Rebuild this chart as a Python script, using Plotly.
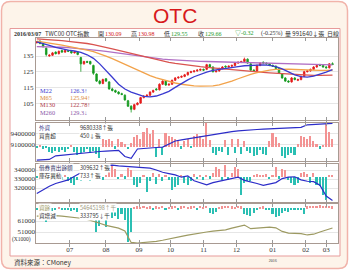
import plotly.graph_objects as go
import pandas as pd

W, H = 350, 273
def X(px): return px / W
def Y(py): return 1 - py / H

# ---------------- trading calendar (TPEx, 2015-06-01 .. 2016-03-07) ----------------
holidays = ["2015-06-19", "2015-09-28", "2015-09-29", "2015-10-09", "2016-01-01",
            "2016-02-04", "2016-02-05", "2016-02-08", "2016-02-09", "2016-02-10",
            "2016-02-11", "2016-02-12", "2016-02-29"]
makeup_days = ["2016-01-30"]
days = pd.bdate_range("2015-06-01", "2016-03-07", freq="C", holidays=holidays)
days = days.union(pd.DatetimeIndex(makeup_days))
idx = list(range(len(days)))
x2 = idx[::2]   # every 2nd session (candles & bars)
x4 = idx[::4]   # every 4th session (averages & balance lines)

month_pos, month_txt = [], []
for i in range(1, len(days)):
    if days[i].month != days[i - 1].month:
        month_pos.append(i)
        t = days[i].strftime("%m")
        if days[i].month == 1:
            t += "<br><span style='font-size:4px'>%d</span>" % days[i].year
        month_txt.append(t)

# ---------------- price (OHLC) ----------------
open_ = [143.5,144.5,143.0,140.0,135.0,135.5,137.5,136.5,138.5,137.5,
         138.5,138.0,137.0,137.5,134.0,130.0,131.5,131.5,129.0,123.5,
         119.0,117.5,120.5,118.5,114.0,113.0,112.0,111.0,110.0,106.5,
         103.0,101.0,104.0,105.0,108.5,109.5,110.0,112.0,114.0,113.5,
         117.0,119.0,116.5,117.0,119.5,121.0,121.5,122.0,123.0,124.5,
         125.0,125.5,126.0,126.5,126.5,129.5,128.0,125.0,125.5,127.0,
         128.5,128.0,128.5,129.0,130.5,131.0,131.5,133.0,130.0,126.0,
         125.5,129.0,131.0,130.5,130.0,129.0,128.5,127.0,123.5,121.0,
         119.0,118.5,121.0,119.5,120.0,122.0,125.0,125.5,126.5,128.0,
         129.5,129.0,128.0,127.5,130.09]
high = [144.5,145.0,143.6,140.5,136.2,137.6,138.0,138.5,139.0,139.0,
        139.0,138.5,138.2,138.0,134.5,132.0,132.0,132.0,129.5,124.0,
        119.8,120.6,121.0,119.0,114.8,113.6,112.6,111.6,110.6,107.0,
        103.6,104.6,105.6,109.0,110.0,110.6,112.6,113.6,114.6,117.6,
        119.6,119.6,117.6,120.0,121.6,122.0,122.6,123.6,125.0,125.6,
        126.0,126.6,127.0,127.0,130.0,130.0,128.5,126.0,127.6,128.6,
        129.0,129.0,129.6,131.0,131.6,132.0,134.0,133.5,130.5,126.6,
        129.6,131.0,131.6,131.0,130.5,129.6,129.0,127.5,124.0,121.5,
        119.6,121.6,121.5,120.6,122.6,125.6,126.0,127.0,128.6,129.6,
        130.0,129.6,128.6,130.5,130.98]
low = [143.0,142.5,140.4,134.8,134.6,135.0,136.0,136.0,137.0,137.0,
       137.5,136.5,136.6,135.5,125.0,129.5,130.5,129.5,123.0,118.5,
       116.8,117.0,118.4,113.5,112.4,111.4,110.4,110.0,106.5,102.5,
       99.0,100.5,103.5,104.5,108.0,109.0,109.5,111.5,113.0,113.0,
       116.5,116.0,116.0,116.6,119.0,120.5,121.0,121.5,122.5,124.0,
       124.5,125.0,125.5,125.5,126.0,127.5,124.5,124.5,125.0,126.5,
       127.5,127.5,128.0,128.5,130.0,130.5,131.0,130.0,125.5,125.0,
       125.0,128.5,130.0,129.5,128.5,128.0,126.5,123.5,120.5,118.5,
       118.0,118.0,119.5,119.0,119.5,121.5,124.5,125.0,126.0,127.5,
       128.5,127.5,127.0,127.0,129.55]
close = [144.0,143.0,141.0,136.0,135.5,137.0,136.5,138.0,137.5,138.5,
         138.0,137.0,137.5,136.0,130.0,131.5,131.0,130.0,124.0,119.0,
         117.5,120.0,119.0,114.0,113.0,112.0,111.0,110.5,107.0,103.0,
         101.0,104.0,105.0,108.5,109.5,110.0,112.0,113.0,113.5,117.0,
         119.0,116.5,117.0,119.5,121.0,121.5,122.0,123.0,124.5,125.0,
         125.5,126.0,126.5,126.0,129.5,128.0,125.0,125.5,127.0,128.0,
         128.0,128.5,129.0,130.5,131.0,131.5,133.0,130.5,126.0,125.5,
         129.0,130.5,130.5,130.0,129.0,128.5,127.0,124.0,121.0,119.0,
         118.5,121.0,120.0,120.0,122.0,125.0,125.5,126.5,128.0,129.0,
         129.0,128.0,127.5,130.0,129.66]

m22 = [144.0,143.0,141.8,140.5,139.5,138.8,138.2,137.3,135.8,133.5,
       130.0,126.0,121.5,117.0,114.0,112.0,110.5,109.3,109.0,109.5,
       110.8,112.5,115.0,117.5,119.8,121.8,123.5,124.8,125.8,126.5,
       127.2,127.8,128.2,128.8,129.0,129.2,129.3,129.0,128.2,126.8,
       124.8,123.0,121.8,121.5,122.2,123.3,124.8,126.3]
m65 = [144.5,144.0,143.3,142.6,141.9,141.2,140.5,139.7,138.8,137.8,
       136.5,135.0,133.3,131.5,129.6,127.6,125.7,124.0,122.5,121.0,
       119.8,118.7,117.8,117.0,116.4,116.0,115.8,115.8,116.0,116.6,
       117.6,119.0,120.5,122.0,123.3,124.4,125.3,126.0,126.5,126.7,
       126.6,126.4,126.2,126.0,125.9,125.9,125.9,125.94]
m130 = [146.0,145.8,145.5,145.2,144.8,144.4,144.0,143.5,143.0,142.3,
        141.5,140.6,139.6,138.6,137.6,136.6,135.6,134.6,133.6,132.7,
        131.8,131.0,130.3,129.7,129.2,128.7,128.2,127.8,127.4,127.0,
        126.6,126.2,125.8,125.5,125.2,124.9,124.6,124.3,124.0,123.7,
        123.4,123.1,122.9,122.7,122.6,122.6,122.7,122.78]
m260 = [141.0,141.0,140.9,140.8,140.6,140.4,140.1,139.8,139.4,139.0,
        138.5,138.0,137.4,136.8,136.2,135.6,135.0,134.4,133.9,133.4,
        133.0,132.7,132.4,132.2,132.0,131.8,131.6,131.5,131.4,131.3,
        131.2,131.1,131.0,130.9,130.8,130.7,130.6,130.4,130.3,130.2,
        130.0,129.9,129.8,129.7,129.6,129.5,129.4,129.3]

# ---------------- foreign holdings (張) & daily net buy/sell ----------------
foreign_hold = [8660000,8660000,8680000,8780000,8800000,8810000,8830000,8850000,8870000,8890000,
                8900000,8910000,8920000,8930000,8760000,8710000,8970000,8990000,9000000,9010000,
                9020000,9100000,9190000,9220000,9250000,9290000,9320000,9350000,9370000,9390000,
                9420000,9450000,9470000,9490000,9500000,9510000,9520000,9530000,9540000,9550000,
                9550000,9560000,9570000,9640000,9650000,9660000,9670000,9680338]
foreign_net = [-4,3,-5,-3,-13,-15,-10,-12,-8,-14,
               -6,4,-14,-20,-16,-12,-6,-15,-10,-18,
               -29,20,18,22,15,-5,20,12,8,-6,
               10,25,31,22,40,50,35,45,-26,21,
               -20,37,30,25,21,18,-5,15,22,-4,
               30,35,28,20,62,18,-15,-20,-10,-12,
               18,-21,20,-15,22,-18,15,-10,-15,-25,
               -20,-8,-18,-22,15,37,25,10,-25,-28,
               -22,-15,-20,8,30,25,20,28,15,8,
               -5,6,60,40,20]

# ---------------- securities-borrowing short balance (張) & change ----------------
sbl_balance = [314000,318000,322000,325000,327000,329000,333000,337000,340000,342000,
               344000,345000,345500,344500,344000,343000,343000,342500,342000,340000,
               337500,336000,334500,332000,333500,328000,326000,323500,326000,327500,
               329000,331000,332000,328500,327000,325000,323000,324500,326000,330500,
               332000,332500,329000,327500,327000,323000,311000,306000]
sbl_change = [-3,4,-5,3,-6,-4,5,-3,-8,4,
              -10,-15,-20,-8,-12,-6,5,-10,8,-5,
              6,-8,5,31,28,20,-6,8,-5,24,
              18,-21,-26,-15,6,-40,-12,10,-18,8,
              -10,6,-8,-34,-26,-20,5,-15,-22,-12,
              8,-6,5,-8,6,-5,10,26,20,-8,
              31,-8,10,26,20,-47,-15,-12,-10,5,
              8,6,4,7,-6,5,26,-5,20,18,
              -8,-16,-20,-15,10,12,8,-15,10,-20,
              -25,-47,-60,6,4]

# ---------------- margin balance (x1000 千) & change ----------------
margin_balance = [65500,65800,66000,65800,65500,65000,64500,63500,62500,61000,
                  59000,57000,56000,54500,52000,41500,41000,41300,41800,42500,
                  43500,44500,46000,47000,48200,49300,50300,51000,51800,52500,
                  53000,54500,56000,57300,54000,54500,55500,55500,54800,51500,
                  50000,50000,49500,48300,49000,51000,52500,54645]
margin_change = [-4,-6,-3,-35,-5,-8,-4,2,-6,-3,
                 -5,-8,-4,-10,-18,-6,-5,-12,-20,-60,
                 -45,-30,-47,-22,-25,-20,-28,-15,-30,-85,
                 -60,3,4,3,5,2,4,-3,4,3,
                 5,-4,3,4,5,-3,4,5,3,4,
                 6,-4,5,3,6,-12,-15,-10,3,4,
                 5,6,4,3,5,4,-14,-18,-20,-12,
                 -5,3,4,-6,-4,-15,-22,-20,-12,-8,
                 -10,-6,-4,-3,-5,-15,4,5,6,5,
                 7,6,5,6,4]

# ---------------- styles ----------------
UP, DN = "#e41b1b", "#159a1f"
PINK, TEAL = "#f39393", "#2bbfb3"
BLUE = "#2c2cc8"
C22, C65, C130, C260 = "#3a3ad0", "#f2a24a", "#d9534f", "#b06ec4"
OLIVE = "#9d9a62"
FRAME = "#a89a92"
GRID = "#e6e6e6"
SERIF = "Liberation Serif, Noto Sans CJK TC, serif"
CJK = "Noto Sans CJK TC, Liberation Serif, sans-serif"

fig = go.Figure()
fig.add_trace(go.Candlestick(x=x2, open=open_, high=high, low=low, close=close,
                             xaxis="x", yaxis="y", hoverinfo="skip",
                             increasing=dict(line=dict(color=UP, width=0.8), fillcolor=UP),
                             decreasing=dict(line=dict(color=DN, width=0.8), fillcolor=DN)))
for vals, col in [(m260, C260), (m130, C130), (m65, C65), (m22, C22)]:
    fig.add_trace(go.Scatter(x=x4, y=vals, mode="lines", line=dict(color=col, width=1.3),
                             xaxis="x", yaxis="y", hoverinfo="skip"))

def bar_colors(v):
    return [PINK if a >= 0 else TEAL for a in v]

fig.add_trace(go.Bar(x=x2, y=foreign_net, marker=dict(color=bar_colors(foreign_net), line=dict(width=0)),
                     width=1.0, xaxis="x2", yaxis="y2", hoverinfo="skip"))
fig.add_trace(go.Scatter(x=x4, y=foreign_hold, mode="lines", line=dict(color=BLUE, width=1.2),
                         xaxis="x2", yaxis="y3", hoverinfo="skip"))
fig.add_trace(go.Bar(x=x2, y=sbl_change, marker=dict(color=bar_colors(sbl_change), line=dict(width=0)),
                     width=1.0, xaxis="x3", yaxis="y4", hoverinfo="skip"))
fig.add_trace(go.Scatter(x=x4, y=sbl_balance, mode="lines", line=dict(color=BLUE, width=1.2),
                         xaxis="x3", yaxis="y5", hoverinfo="skip"))
fig.add_trace(go.Bar(x=x2, y=margin_change, marker=dict(color=bar_colors(margin_change), line=dict(width=0)),
                     width=1.0, xaxis="x4", yaxis="y6", hoverinfo="skip"))
fig.add_trace(go.Scatter(x=x4, y=margin_balance, mode="lines", line=dict(color=OLIVE, width=1.2),
                         xaxis="x4", yaxis="y7", hoverinfo="skip"))

tickfont = dict(family=SERIF, size=7, color="#333333")
xcommon = dict(domain=[X(36), X(338)], range=[-0.5, 191.5], tickvals=month_pos, ticktext=month_txt,
               ticks="inside", ticklen=3, tickcolor="#999999", mirror="allticks", showline=True,
               linecolor=FRAME, linewidth=1, showgrid=False, zeroline=False, fixedrange=True,
               tickfont=tickfont)
def ydom(top, bot): return [Y(bot), Y(top)]
ybase = dict(showline=True, mirror=True, linecolor=FRAME, linewidth=1, ticks="", zeroline=False,
             fixedrange=True, tickfont=tickfont)

layout = dict(
    width=W, height=H, margin=dict(l=0, r=0, t=0, b=0),
    paper_bgcolor="white", plot_bgcolor="white", showlegend=False, bargap=0,
    xaxis=dict(xcommon, anchor="y", showticklabels=False, rangeslider=dict(visible=False)),
    xaxis2=dict(xcommon, anchor="y2", matches="x", showticklabels=False),
    xaxis3=dict(xcommon, anchor="y4", matches="x", showticklabels=False),
    xaxis4=dict(xcommon, anchor="y6", matches="x", showticklabels=True),
    yaxis=dict(ybase, domain=ydom(38, 120), range=[94.2, 146.5], tickvals=[105, 115, 125, 135],
               showgrid=True, gridcolor=GRID, anchor="x"),
    yaxis2=dict(ybase, domain=ydom(123, 161), range=[-37, 63], showticklabels=False, showgrid=False, anchor="x2"),
    yaxis3=dict(ybase, overlaying="y2", range=[8636000, 9690000], tickvals=[9100000, 9400000],
                tickformat="d", showgrid=True, gridcolor=GRID, anchor="x2", side="left", showline=False),
    yaxis4=dict(ybase, domain=ydom(164, 202), range=[-66, 34], showticklabels=False, showgrid=False, anchor="x3"),
    yaxis5=dict(ybase, overlaying="y4", range=[304444, 346667], tickvals=[320000, 330000, 340000],
                tickformat="d", showgrid=True, gridcolor=GRID, anchor="x3", side="left", showline=False),
    yaxis6=dict(ybase, domain=ydom(204, 243), range=[-87, 10], showticklabels=False, showgrid=False, anchor="x4"),
    yaxis7=dict(ybase, overlaying="y6", range=[41000, 76455], tickvals=[51000, 61000],
                tickformat="d", showgrid=True, gridcolor=GRID, anchor="x4", side="left", showline=False),
)
fig.update_layout(**layout)

# ---------------- frames ----------------
def rrect(x0, y0, x1, y1, r):
    return (f"M {X(x0+r)},{Y(y0)} L {X(x1-r)},{Y(y0)} Q {X(x1)},{Y(y0)} {X(x1)},{Y(y0+r)} "
            f"L {X(x1)},{Y(y1-r)} Q {X(x1)},{Y(y1)} {X(x1-r)},{Y(y1)} "
            f"L {X(x0+r)},{Y(y1)} Q {X(x0)},{Y(y1)} {X(x0)},{Y(y1-r)} "
            f"L {X(x0)},{Y(y0+r)} Q {X(x0)},{Y(y0)} {X(x0+r)},{Y(y0)} Z")

fig.add_shape(type="path", xref="paper", yref="paper", path=rrect(1.5, 1.5, 347.5, 268.5, 9),
              fillcolor="#fdf4ea", line=dict(color="#f1b3aa", width=1.5), layer="below")
fig.add_shape(type="rect", xref="paper", yref="paper", x0=X(10), x1=X(340), y0=Y(256), y1=Y(28.5),
              fillcolor="white", line=dict(color="#e79b9b", width=1), layer="below")

# ---------------- texts ----------------
def txt(px, py, s, color="#333333", size=6.5, anchor="left", family=CJK, bg=None):
    d = dict(xref="paper", yref="paper", x=X(px), y=Y(py), text=s, showarrow=False,
             xanchor=anchor, yanchor="middle", font=dict(family=family, size=size, color=color))
    if bg:
        d.update(bgcolor=bg, borderpad=0)
    fig.add_annotation(**d)

fig.add_annotation(xref="paper", yref="paper", x=X(175), y=Y(15.5), text="OTC", showarrow=False,
                   xanchor="center", yanchor="middle",
                   font=dict(family="Liberation Sans, Arial, sans-serif", size=21, color="#d7191c"))

hy = 33.5
RED, GRN, DK = "#d42020", "#1c9a2a", "#333333"
txt(12, hy, "<b>2016/03/07</b>", DK, 6, family=SERIF)
txt(43, hy, "TWC00 OTC指數", DK, 6)
txt(96, hy, "開", DK, 6)
txt(103, hy, "130.09", RED, 6, family=SERIF)
txt(129, hy, "高", DK, 6)
txt(136, hy, "130.98", RED, 6, family=SERIF)
txt(162, hy, "低", DK, 6)
txt(169, hy, "129.55", GRN, 6, family=SERIF)
txt(196, hy, "收", DK, 6)
txt(203, hy, "129.66", GRN, 6, family=SERIF)
txt(233, hy, "▽-0.32", GRN, 6, family=SERIF)
txt(259, hy, "(-0.25%)", DK, 6, family=SERIF)
txt(283, hy, "量 991640↓張", DK, 6)
txt(325, hy, "日線", DK, 6)

# price legend
for (lab, val, col, py) in [("M22", "126.3↑", C22, 90.5), ("M65", "125.94↑", "#d98a3a", 97.5),
                            ("M130", "122.78↑", "#b03a48", 105), ("M260", "129.3↓", "#8a58a8", 112.5)]:
    txt(37.5, py, lab, col, 6.3, family=SERIF)
    txt(68, py, val, col, 6.3, family=SERIF)

# panel labels (white backing)
LS = 5.6
txt(37.5, 127.5, "外資", "#3a3a8a", LS, bg="white")
txt(79, 127.5, "9680338↑張", "#333333", LS, bg="white")
txt(37.5, 135.5, "買賣超", "#333333", LS, bg="white")
txt(79, 135.5, "450↓張", "#333333", LS, bg="white")

txt(37.5, 168, "借券賣出餘額", "#333366", LS, bg="white")
txt(79, 168, "309632↑張", "#333333", LS, bg="white")
txt(37.5, 176, "庫存異動", "#333333", LS, bg="white")
txt(79, 176, "733↑張", "#333333", LS, bg="white")

txt(37.5, 207.5, "資餘", OLIVE, LS, bg="white")
txt(79, 207.5, "54645198↑千", "#a09a80", LS, bg="white")
txt(37.5, 216, "資增減", "#333333", LS, bg="white")
txt(79, 216, "333795↓千", "#333333", LS, bg="white")

txt(33, 239.5, "(X1000)", "#333333", 5.5, anchor="right", family=SERIF)
txt(11.5, 262, "資料來源：CMoney", "#333333", 6.5)

fig.write_html("out.html")
